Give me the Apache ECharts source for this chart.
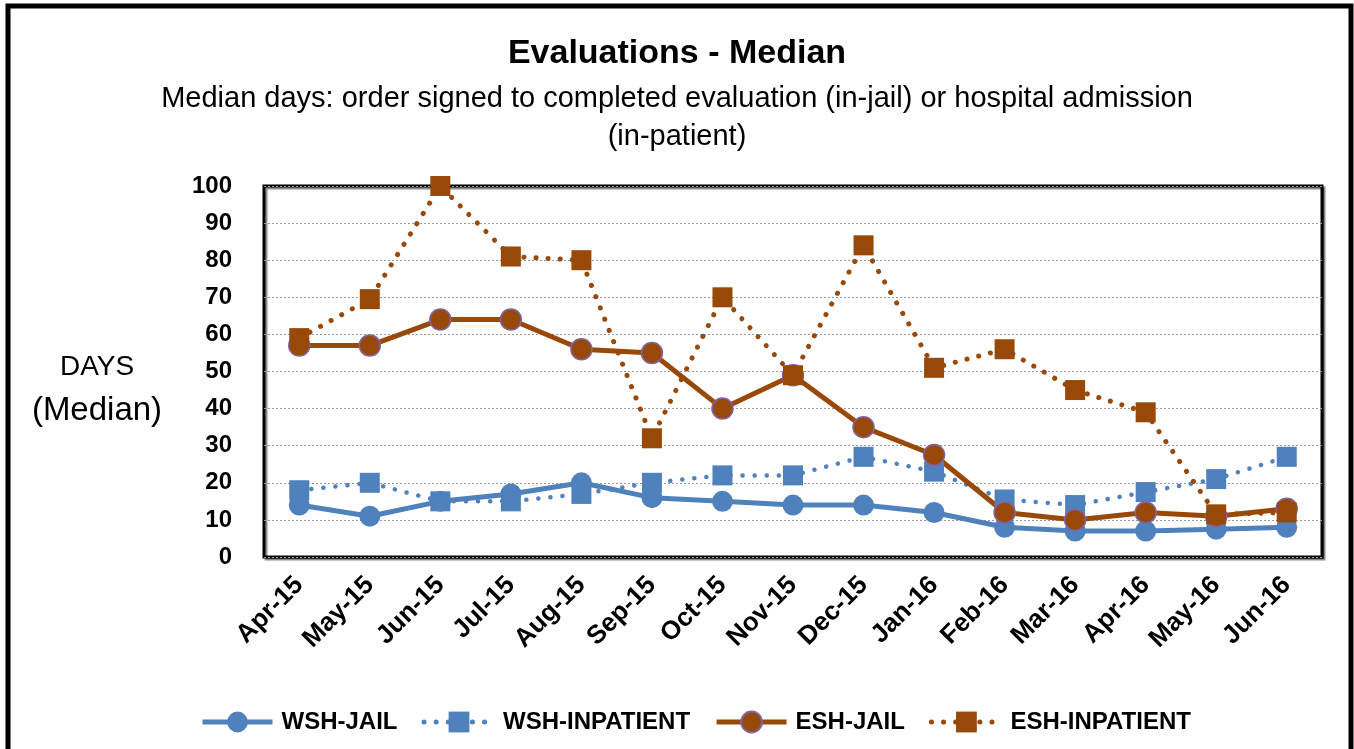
<!DOCTYPE html>
<html>
<head>
<meta charset="utf-8">
<script src="https://cdn.jsdelivr.net/npm/echarts@6/dist/echarts.min.js"></script>
<style>
html,body{margin:0;padding:0;background:#fff;}
#chart{width:1354px;height:749px;}
</style>
</head>
<body>
<div id="chart"></div>
<script>
const categories = ['Apr-15','May-15','Jun-15','Jul-15','Aug-15','Sep-15','Oct-15','Nov-15','Dec-15','Jan-16','Feb-16','Mar-16','Apr-16','May-16','Jun-16'];
const wshJail = [14, 11, 15, 17, 20, 16, 15, 14, 14, 12, 8, 7, 7, 7.5, 8];
const wshInpatient = [18, 20, 15, 15, 17, 20, 22, 22, 27, 23, 15.5, 14, 17.5, 21, 27];
const eshJail = [57, 57, 64, 64, 56, 55, 40, 49, 35, 27.5, 12, 10, 12, 11, 13];
const eshInpatient = [59, 69.5, 100, 81, 80, 32, 70, 49, 84, 51, 56, 45, 39, 11.5, 12];
const yTicks = [0, 10, 20, 30, 40, 50, 60, 70, 80, 90, 100];
const seriesNames = ['WSH-JAIL', 'WSH-INPATIENT', 'ESH-JAIL', 'ESH-INPATIENT'];

const FONT = "'Liberation Sans', Arial, sans-serif";
const BLUE = '#4F81BD';
const BROWN = '#984807';
const DOT = [0.1, 12];

const chart = echarts.init(document.getElementById('chart'), null, {renderer: 'canvas'});
chart.setOption({
  backgroundColor: '#fff',
  animation: false,
  title: {
    text: 'Evaluations - Median',
    subtext: 'Median days: order signed to completed evaluation (in-jail) or hospital admission\n(in-patient)',
    left: 'center',
    top: 32,
    itemGap: 9,
    textStyle: {fontFamily: FONT, fontWeight: 'bold', fontSize: 34, color: '#000'},
    subtextStyle: {fontFamily: FONT, fontSize: 29, color: '#000', lineHeight: 38}
  },
  graphic: [
    {type: 'rect', shape: {x: 8, y: 6, width: 1343, height: 760}, style: {fill: 'none', stroke: '#000', lineWidth: 5}, z: 100},
    {type: 'text', x: 97, y: 367, style: {text: 'DAYS', fontFamily: FONT, fontSize: 28, fill: '#000', textAlign: 'center', textVerticalAlign: 'middle'}},
    {type: 'text', x: 97, y: 411, style: {text: '(Median)', fontFamily: FONT, fontSize: 33, fill: '#000', textAlign: 'center', textVerticalAlign: 'middle'}}
  ],
  legend: {
    left: 195,
    top: 705,
    itemWidth: 70,
    itemHeight: 26,
    itemGap: 24,
    textStyle: {fontFamily: FONT, fontWeight: 'bold', fontSize: 24, color: '#000', padding: [0, 0, 0, 4]},
    lineStyle: {width: 5},
    data: seriesNames
  },
  grid: {
    left: 264, right: 32, top: 186, bottom: 192,
    show: true, borderColor: '#000', borderWidth: 3, backgroundColor: '#fff',
    shadowColor: 'rgba(0,0,0,0.45)', shadowOffsetX: 2, shadowOffsetY: 2, shadowBlur: 1
  },
  xAxis: {
    type: 'category',
    data: categories,
    boundaryGap: true,
    axisLine: {show: false},
    axisTick: {show: false},
    axisLabel: {rotate: 45, interval: 0, margin: 24, fontFamily: FONT, fontWeight: 'bold', fontSize: 26, color: '#000'}
  },
  yAxis: {
    type: 'value',
    min: yTicks[0],
    max: yTicks[yTicks.length - 1],
    interval: 10,
    axisLine: {show: false},
    axisTick: {show: false},
    axisLabel: {margin: 32, fontFamily: FONT, fontWeight: 'bold', fontSize: 24, color: '#000'},
    splitLine: {show: true, lineStyle: {color: '#999', type: [2, 2], width: 1}}
  },
  series: [
    {
      name: seriesNames[0], type: 'line', data: wshJail,
      symbol: 'circle', symbolSize: 21,
      lineStyle: {color: BLUE, width: 5},
      itemStyle: {color: BLUE}
    },
    {
      name: seriesNames[1], type: 'line', data: wshInpatient,
      symbol: 'rect', symbolSize: 20,
      lineStyle: {color: BLUE, width: 4.5, type: DOT, cap: 'round'},
      itemStyle: {color: BLUE}
    },
    {
      name: seriesNames[2], type: 'line', data: eshJail,
      symbol: 'circle', symbolSize: 21,
      lineStyle: {color: BROWN, width: 5},
      itemStyle: {color: BROWN, borderColor: '#8064A2', borderWidth: 1.5}
    },
    {
      name: seriesNames[3], type: 'line', data: eshInpatient,
      symbol: 'rect', symbolSize: 20,
      lineStyle: {color: BROWN, width: 5, type: DOT, cap: 'round'},
      itemStyle: {color: BROWN}
    }
  ]
});
</script>
</body>
</html>
